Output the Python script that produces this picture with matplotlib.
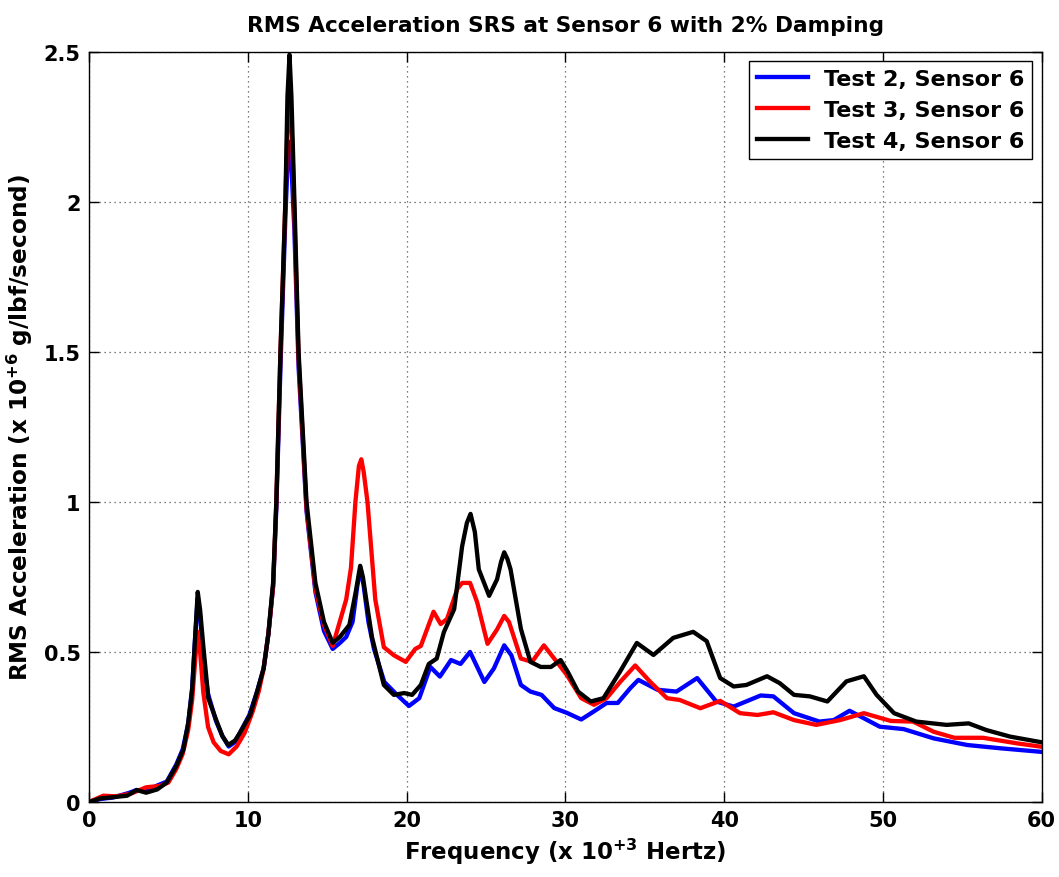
import numpy as np
import matplotlib
matplotlib.use("Agg")
import matplotlib.pyplot as plt

plt.rcParams['font.family'] = ['DejaVu Sans']
plt.rcParams['font.weight'] = 'bold'
plt.rcParams['mathtext.fontset'] = 'dejavusans'
plt.rcParams['mathtext.default'] = 'bf'

# ------------------------------------------------------------
# SRS curves (freq in kHz, accel in 1e6 g/lbf/s)
# ------------------------------------------------------------

freq_t2 = [0, 0.7, 1.5, 2.5, 3.0, 3.6, 4.3, 4.9, 5.5, 5.9, 6.25, 6.5, 6.7, 6.85, 7.0,
           7.2, 7.5, 8.0, 8.4, 8.8, 9.2, 9.6, 10.1, 10.6, 11.0, 11.3, 11.6, 11.8, 12.06,
           12.37, 12.5, 12.63, 12.75, 12.94, 13.2, 13.7, 14.26, 14.8, 15.35, 15.8, 16.2,
           16.6, 16.9, 17.1, 17.3, 17.6, 17.95, 18.6, 19.4, 20.15, 20.8, 21.5, 22.1, 22.8,
           23.4, 24.0, 24.9, 25.5, 26.15, 26.6, 27.2, 27.8, 28.5, 29.3, 30.1, 31.0, 31.8,
           32.6, 33.3, 34.1, 34.6, 35.8, 37.0, 38.3, 39.5, 40.6, 42.3, 43.1, 44.4, 46.0,
           46.9, 47.9, 48.8, 49.8, 51.3, 53.2, 55.3, 57.4, 60.0]
accel_t2 = [0, 0.01, 0.015, 0.03, 0.04, 0.035, 0.055, 0.068, 0.125, 0.175, 0.26, 0.38,
            0.56, 0.68, 0.62, 0.47, 0.36, 0.27, 0.22, 0.185, 0.20, 0.24, 0.29, 0.37, 0.445,
            0.56, 0.72, 0.98, 1.45, 1.95, 2.12, 2.2, 2.12, 1.9, 1.45, 0.97, 0.7, 0.57, 0.51,
            0.53, 0.55, 0.6, 0.72, 0.78, 0.72, 0.6, 0.51, 0.40, 0.357, 0.32, 0.346, 0.45,
            0.418, 0.473, 0.46, 0.5, 0.40, 0.445, 0.522, 0.489, 0.39, 0.368, 0.357, 0.313,
            0.297, 0.275, 0.302, 0.33, 0.33, 0.38, 0.407, 0.374, 0.368, 0.413, 0.335, 0.318,
            0.355, 0.352, 0.296, 0.268, 0.273, 0.304, 0.279, 0.251, 0.243, 0.212, 0.19,
            0.179, 0.167]

freq_t3 = [0, 0.9, 1.7, 2.6, 3.6, 4.5, 5.0, 5.5, 5.9, 6.25, 6.5, 6.7, 6.85, 7.0, 7.2, 7.5,
           7.85, 8.3, 8.8, 9.3, 9.8, 10.3, 10.7, 11.0, 11.3, 11.6, 11.8, 12.06, 12.37, 12.5,
           12.65, 12.8, 12.94, 13.2, 13.7, 14.26, 14.8, 15.35, 15.9, 16.2, 16.5, 16.78, 17.0,
           17.15, 17.3, 17.54, 18.03, 18.57, 19.2, 19.95, 20.55, 20.9, 21.7, 22.15, 22.55,
           23.2, 23.5, 24.0, 24.45, 25.1, 25.7, 26.15, 26.45, 27.2, 27.9, 28.65, 29.3, 30.1,
           31.0, 31.8, 32.6, 33.45, 34.4, 35.35, 36.4, 37.2, 38.5, 39.75, 41.0, 42.1, 43.1,
           44.4, 45.8, 47.3, 48.8, 50.5, 51.9, 53.2, 54.5, 56.3, 58.5, 60.0]
accel_t3 = [0, 0.021, 0.019, 0.027, 0.049, 0.054, 0.065, 0.11, 0.16, 0.24, 0.34, 0.48,
            0.567, 0.5, 0.366, 0.25, 0.199, 0.17, 0.159, 0.185, 0.23, 0.3, 0.37, 0.445,
            0.56, 0.72, 1.0, 1.5, 2.0, 2.25, 2.33, 2.2, 1.95, 1.48, 0.98, 0.71, 0.59, 0.52,
            0.62, 0.675, 0.78, 1.0, 1.12, 1.142, 1.1, 1.0, 0.675, 0.516, 0.489, 0.467, 0.51,
            0.52, 0.634, 0.593, 0.61, 0.71, 0.73, 0.73, 0.665, 0.527, 0.575, 0.62, 0.60,
            0.478, 0.467, 0.522, 0.478, 0.423, 0.346, 0.324, 0.346, 0.40, 0.455, 0.40, 0.346,
            0.34, 0.3125, 0.337, 0.296, 0.29, 0.299, 0.273, 0.257, 0.273, 0.296, 0.27,
            0.268, 0.234, 0.214, 0.214, 0.195, 0.184]

freq_t4 = [0, 0.7, 1.5, 2.4, 3.0, 3.6, 4.3, 4.9, 5.5, 5.95, 6.25, 6.5, 6.7, 6.85, 7.0, 7.2,
           7.52, 8.0, 8.4, 8.77, 9.2, 9.5, 10.15, 10.6, 11.0, 11.3, 11.6, 11.8, 12.06, 12.37,
           12.5, 12.63, 12.75, 12.94, 13.2, 13.7, 14.26, 14.8, 15.35, 15.8, 16.4, 16.8,
           17.08, 17.25, 17.46, 17.82, 18.57, 19.2, 19.85, 20.35, 20.9, 21.4, 21.9, 22.35,
           23.0, 23.5, 23.8, 24.03, 24.3, 24.55, 25.2, 25.7, 25.95, 26.15, 26.35, 26.55,
           27.2, 27.8, 28.45, 29.1, 29.7, 30.15, 30.8, 31.6, 32.4, 33.45, 34.5, 35.55, 36.8,
           38.05, 38.9, 39.75, 40.6, 41.4, 42.7, 43.5, 44.4, 45.4, 46.5, 47.7, 48.8, 49.6,
           50.7, 52.1, 54.0, 55.4, 56.5, 58.0, 60.0]
accel_t4 = [0, 0.012, 0.016, 0.021, 0.04, 0.031, 0.042, 0.065, 0.12, 0.175, 0.264, 0.375,
            0.56, 0.70, 0.64, 0.52, 0.345, 0.275, 0.22, 0.19, 0.205, 0.23, 0.29, 0.37, 0.445,
            0.56, 0.734, 1.0, 1.5, 2.0, 2.35, 2.49, 2.35, 2.0, 1.5, 1.0, 0.73, 0.6, 0.53,
            0.55, 0.59, 0.7, 0.787, 0.75, 0.675, 0.55, 0.39, 0.357, 0.363, 0.357, 0.39, 0.46,
            0.478, 0.566, 0.643, 0.852, 0.93, 0.96, 0.9, 0.775, 0.687, 0.742, 0.8, 0.832,
            0.81, 0.775, 0.577, 0.467, 0.45, 0.45, 0.473, 0.434, 0.368, 0.335, 0.346, 0.435,
            0.53, 0.49, 0.547, 0.567, 0.536, 0.413, 0.385, 0.39, 0.419, 0.396, 0.357, 0.352,
            0.335, 0.402, 0.419, 0.357, 0.296, 0.268, 0.257, 0.262, 0.24, 0.218, 0.199]

labels = ["Test 2, Sensor 6", "Test 3, Sensor 6", "Test 4, Sensor 6"]
colors = ["#0000ff", "#ff0000", "#000000"]

x_ticks = [0, 10, 20, 30, 40, 50, 60]
y_ticks = [0, 0.5, 1, 1.5, 2, 2.5]
y_tick_labels = ["0", "0.5", "1", "1.5", "2", "2.5"]

# ------------------------------------------------------------
# Plot
# ------------------------------------------------------------

fig = plt.figure(figsize=(10.59, 8.78), dpi=100)
ax = fig.add_axes([0.084, 0.0854, 0.8997, 0.8546])

series = [(freq_t2, accel_t2), (freq_t3, accel_t3), (freq_t4, accel_t4)]
for (f, a), lab, col in zip(series, labels, colors):
    ax.plot(f, a, color=col, linewidth=3.1, label=lab, solid_joinstyle="round")

ax.set_xlim(0, 60)
ax.set_ylim(0, 2.5)
ax.set_xticks(x_ticks)
ax.set_yticks(y_ticks)
ax.set_yticklabels(y_tick_labels)
ax.tick_params(direction="in", top=True, right=True, length=7, width=1,
               labelsize=15, pad=6)
ax.grid(True, linestyle=(0, (1, 3)), color="#555555", linewidth=0.9)
for sp in ax.spines.values():
    sp.set_linewidth(1.0)

ax.set_title("RMS Acceleration SRS at Sensor 6 with 2% Damping",
             fontsize=15.6, fontweight="bold", pad=15)
ax.set_xlabel("Frequency (x 10$^{+3}$ Hertz)", fontsize=16.5, fontweight="bold",
              labelpad=4)
ax.set_ylabel("RMS Acceleration (x 10$^{+6}$ g/lbf/second)", fontsize=16.7,
              fontweight="bold", labelpad=6)

leg = ax.legend(loc="upper right", fontsize=16, fancybox=False, framealpha=1,
                edgecolor="black", handlelength=2.3, borderpad=0.35,
                labelspacing=0.5, handletextpad=0.7, borderaxespad=0,
                bbox_to_anchor=(0.9898, 0.9876))
leg.get_frame().set_linewidth(1.0)

fig.savefig("out.png", dpi=100)
